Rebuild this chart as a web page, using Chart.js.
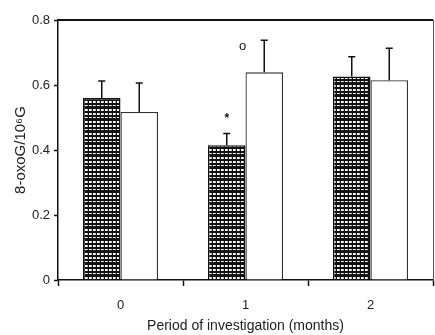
<!DOCTYPE html>
<html>
<head>
<meta charset="utf-8">
<script src="https://cdn.jsdelivr.net/npm/chart.js@4/dist/chart.umd.min.js"></script>
<style>
  html, body { margin: 0; padding: 0; background: #fff; }
  #wrap { width: 435px; height: 335px; position: relative; }
</style>
</head>
<body>
<div id="wrap"><canvas id="c" width="435" height="335"></canvas></div>
<script>
// ---- data ----
const categories = ['0', '1', '2'];
const hatchedValues = [0.560, 0.415, 0.626];
const hatchedErrors = [0.052, 0.036, 0.061];
const whiteValues = [0.517, 0.639, 0.615];
const whiteErrors = [0.089, 0.099, 0.098];
const hatchedMarks = ['', '*', ''];
const whiteMarks = ['', 'o', ''];
const yTicksMin = 0, yTicksMax = 0.8, yTickStep = 0.2;
const xTitle = 'Period of investigation (months)';
const yTitle = '8-oxoG/10\u2076G';

// ---- hatch pattern ----
function makePattern() {
  const p = document.createElement('canvas');
  p.width = 4; p.height = 12;
  const g = p.getContext('2d');
  g.fillStyle = '#111';
  g.fillRect(0, 0, 4, 12);
  g.fillStyle = '#fff';
  g.fillRect(1, 1, 2, 2);
  g.fillRect(1, 5, 2, 2);
  g.fillRect(1, 9, 2, 1);
  g.fillStyle = '#bbb';
  g.fillRect(3, 1, 1, 2);
  g.fillRect(3, 5, 1, 2);
  g.fillRect(3, 9, 1, 1);
  return document.getElementById('c').getContext('2d').createPattern(p, 'repeat');
}
const hatch = makePattern();

const FONT = "'Liberation Sans', Arial, Helvetica, sans-serif";

const errorPlugin = {
  id: 'errbars',
  afterDatasetsDraw(chart) {
    const ctx = chart.ctx;
    const ys = chart.scales.y;
    const errs = [hatchedErrors, whiteErrors];
    const vals = [hatchedValues, whiteValues];
    const marks = [hatchedMarks, whiteMarks];
    ctx.save();
    chart.data.datasets.forEach((ds, di) => {
      const meta = chart.getDatasetMeta(di);
      meta.data.forEach((bar, i) => {
        const topV = vals[di][i] + errs[di][i];
        const yTop = ys.getPixelForValue(topV);
        ctx.strokeStyle = '#111';
        ctx.lineWidth = 1.5;
        ctx.beginPath();
        ctx.moveTo(bar.x, bar.y);
        ctx.lineTo(bar.x, yTop);
        ctx.moveTo(bar.x - 3.5, yTop);
        ctx.lineTo(bar.x + 3.5, yTop);
        ctx.stroke();
        const m = marks[di][i];
        if (m) {
          ctx.fillStyle = '#111';
          ctx.textAlign = 'center';
          ctx.textBaseline = 'middle';
          if (m === '*') {
            ctx.font = 'bold 12px ' + FONT;
            ctx.fillText(m, bar.x, ys.getPixelForValue(topV + 0.05) + 2);
          } else {
            ctx.font = '13px ' + FONT;
            ctx.fillText(m, bar.x - bar.width / 2 - 3, ys.getPixelForValue(topV - 0.018));
          }
        }
      });
    });
    // frame: top and right
    const a = chart.chartArea;
    ctx.strokeStyle = '#111';
    ctx.lineWidth = 2;
    ctx.beginPath();
    ctx.moveTo(a.left, a.top);
    ctx.lineTo(a.right, a.top);
    ctx.stroke();
    ctx.strokeStyle = '#555';
    ctx.lineWidth = 1;
    ctx.beginPath();
    ctx.moveTo(a.right + 0.5, a.top);
    ctx.lineTo(a.right + 0.5, a.bottom);
    ctx.stroke();
    ctx.restore();
  }
};

new Chart(document.getElementById('c'), {
  type: 'bar',
  data: {
    labels: categories,
    datasets: [
      { data: hatchedValues, backgroundColor: hatch, borderColor: '#111', borderWidth: 1.5, borderSkipped: 'bottom' },
      { data: whiteValues, backgroundColor: '#fff', borderColor: '#333', borderWidth: 1.3, borderSkipped: 'bottom' }
    ]
  },
  options: {
    responsive: false,
    animation: false,
    events: [],
    layout: { padding: { top: 20, right: 2, left: 0, bottom: 0 } },
    datasets: { bar: { categoryPercentage: 0.6, barPercentage: 1.0 } },
    plugins: { legend: { display: false }, tooltip: { enabled: false } },
    scales: {
      x: {
        afterFit: s => { s.height = 55; },
        grid: { display: true, drawOnChartArea: false, offset: true, tickLength: 6, tickColor: '#111', tickWidth: 1.5 },
        border: { display: true, color: '#111', width: 1.5 },
        ticks: { color: '#222', font: { family: FONT, size: 13 }, padding: 12 },
        title: { display: true, text: xTitle, color: '#222', font: { family: FONT, size: 14 }, padding: { top: 0, bottom: 0 } }
      },
      y: {
        min: yTicksMin, max: yTicksMax,
        afterFit: s => { s.width = 58; },
        grid: { display: true, drawOnChartArea: false, tickLength: 4, tickColor: '#111', tickWidth: 1.5 },
        border: { display: true, color: '#111', width: 1.5 },
        ticks: { stepSize: yTickStep, color: '#222', font: { family: FONT, size: 13 }, padding: 4 },
        title: { display: true, text: yTitle, color: '#222', font: { family: FONT, size: 15 }, padding: { top: 12, bottom: 0 } }
      }
    }
  },
  plugins: [errorPlugin]
});
</script>
</body>
</html>
